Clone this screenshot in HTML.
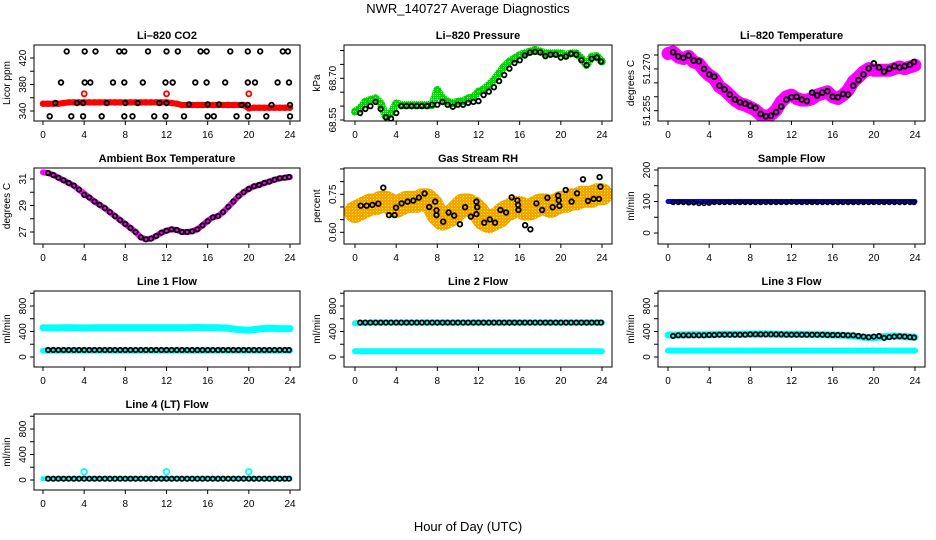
<!DOCTYPE html>
<html><head><meta charset="utf-8"><style>
html,body{margin:0;padding:0;background:#fff;}
svg{display:block;font-family:"Liberation Sans",Arial,sans-serif;}
</style></head><body>
<svg id="chart" width="936" height="540" viewBox="0 0 936 540" xmlns="http://www.w3.org/2000/svg">
<defs>
<pattern id="orangeDots" width="3" height="3" patternUnits="userSpaceOnUse">
<rect width="3" height="3" fill="#f5a300"/><rect x="1" y="1" width="1" height="1" fill="#ffff00"/>
</pattern>
<pattern id="greenDots" width="2" height="2" patternUnits="userSpaceOnUse">
<rect width="2" height="2" fill="#00dd00"/><rect x="1" y="1" width="1" height="1" fill="#88ff88"/>
</pattern>
</defs>
<text x="468" y="13" font-size="13" text-anchor="middle">NWR_140727  Average Diagnostics</text>
<text x="468" y="531" font-size="13" text-anchor="middle">Hour of Day (UTC)</text>
<g id="panels"></g>
</svg>
<script>
// ---------- data ----------
const hours49 = [0,0.5,1,1.5,2,2.5,3,3.5,4,4.5,5,5.5,6,6.5,7,7.5,8,8.5,9,9.5,10,10.5,11,11.5,12,12.5,13,13.5,14,14.5,15,15.5,16,16.5,17,17.5,18,18.5,19,19.5,20,20.5,21,21.5,22,22.5,23,23.5,24];
const hours48 = [0.5,1,1.5,2,2.5,3,3.5,4,4.5,5,5.5,6,6.5,7,7.5,8,8.5,9,9.5,10,10.5,11,11.5,12,12.5,13,13.5,14,14.5,15,15.5,16,16.5,17,17.5,18,18.5,19,19.5,20,20.5,21,21.5,22,22.5,23,23.5,23.9];
const hours25 = [0,1,2,3,4,5,6,7,8,9,10,11,12,13,14,15,16,17,18,19,20,21,22,23,24];
const xTicks = [0,4,8,12,16,20,24];

// CO2
const co2Red = [351,351,351,351,352,353,353,353,353,353,353,353,353,353,353,353,353,353,353,353,353,353,353,353,353,352,351,349,349,349,349,349,349,349,349,349,349,349,349,349,344,345,345,345,345,345,345,345,345];
const co2RedOutT = [4,12,20];
const co2RedOutV = [366,366,366];
const co2BlackT = [2.3,4.05,5.1,7.4,7.9,10.2,12,13.1,15.3,15.9,18.2,19.9,21.1,23.3,23.8, 1.75,4.05,4.6,6.8,7.9,9.7,11.9,12.6,14.8,15.9,17.7,19.9,20.6,22.8,23.9, 1.2,3.3,3.9,6.2,8,9.2,11.3,12,14.2,16,17.1,19.3,19.9,22.2,24, 0.65,2.75,3.9,5.7,7.9,8.7,10.8,11.9,13.7,16,16.6,18.8,19.9,21.7,24];
const co2BlackV = [430,430,430,430,430,430,430,430,430,430,430,430,430,430,430, 383,383,383,383,383,383,383,383,383,383,383,383,383,383,383, 352,352,352,352,352,352,352,352,350,350,350,349,349,349,349, 332,332,332,332,332,332,332,332,332,332,332,332,332,332,332];

// Pressure
const presGreen = [68.580,68.592,68.616,68.622,68.628,68.610,68.562,68.574,68.610,68.604,68.604,68.604,68.604,68.604,68.604,68.604,68.658,68.628,68.616,68.610,68.616,68.618,68.628,68.632,68.652,68.660,68.676,68.694,68.718,68.742,68.760,68.772,68.784,68.790,68.796,68.802,68.796,68.790,68.790,68.790,68.790,68.784,68.790,68.790,68.772,68.748,68.778,68.780,68.760];
const presBlack = [68.575,68.590,68.600,68.615,68.590,68.560,68.555,68.575,68.600,68.600,68.600,68.600,68.600,68.600,68.605,68.605,68.615,68.605,68.598,68.605,68.605,68.612,68.615,68.618,68.640,68.652,68.668,68.690,68.712,68.735,68.755,68.765,68.782,68.792,68.795,68.793,68.780,68.785,68.785,68.775,68.778,68.788,68.785,68.765,68.748,68.770,68.775,68.760];

// Li-820 temperature
const tempMag = [51.2755,51.2761,51.2743,51.2737,51.2745,51.2725,51.2719,51.2695,51.2677,51.2665,51.2636,51.2624,51.2606,51.2588,51.2576,51.2570,51.2562,51.2552,51.2535,51.2529,51.2535,51.2552,51.2582,51.2600,51.2606,51.2594,51.2588,51.2588,51.2594,51.2606,51.2612,51.2618,51.2600,51.2594,51.2606,51.2624,51.2654,51.2671,51.2689,51.2701,51.2695,51.2695,51.2695,51.2695,51.2701,51.2707,51.2701,51.2707,51.2713];
const tempBlack = [51.2760,51.2745,51.2740,51.2748,51.2730,51.2727,51.2700,51.2680,51.2672,51.2640,51.2626,51.2608,51.2590,51.2580,51.2575,51.2568,51.2560,51.2538,51.2530,51.2532,51.2545,51.2565,51.2590,51.2598,51.2600,51.2590,51.2585,51.2615,51.2605,51.2615,51.2620,51.2600,51.2598,51.2610,51.2608,51.2640,51.2660,51.2680,51.2702,51.2720,51.2705,51.2690,51.2700,51.2710,51.2705,51.2710,51.2715,51.2725];

// Ambient box temperature
const ambient = [31.5,31.45,31.3,31.1,30.9,30.7,30.5,30.2,29.9,29.6,29.3,29.05,28.8,28.5,28.2,27.9,27.6,27.3,27.0,26.6,26.45,26.5,26.7,26.95,27.1,27.2,27.15,27.0,27.0,27.05,27.2,27.5,27.85,28.1,28.2,28.5,28.9,29.3,29.7,30.0,30.25,30.45,30.55,30.7,30.8,30.95,31.05,31.1,31.15];
const ambientBlack = [31.45,31.3,31.1,30.9,30.7,30.5,30.2,29.8,29.6,29.3,29.05,28.8,28.5,28.2,27.9,27.6,27.3,27.0,26.6,26.45,26.5,26.7,26.95,27.1,27.2,27.15,27.0,27.0,27.05,27.2,27.5,27.8,28.1,28.2,28.5,28.9,29.3,29.7,30.0,30.25,30.45,30.55,30.7,30.8,30.95,31.05,31.1,31.15];

// Gas stream RH
const rhBand = [0.68,0.69,0.70,0.71,0.71,0.72,0.72,0.71,0.70,0.71,0.72,0.72,0.72,0.73,0.73,0.71,0.67,0.65,0.66,0.67,0.69,0.71,0.71,0.70,0.68,0.65,0.64,0.65,0.66,0.68,0.69,0.70,0.70,0.69,0.69,0.70,0.71,0.71,0.70,0.71,0.72,0.72,0.73,0.73,0.74,0.74,0.74,0.75,0.75];
const rhBlackT = [0.55,1.13,1.68,2.26,2.75,3.3,3.85,3.98,4.53,5.11,5.66,6.21,6.76,7.21,7.79,7.92,7.92,8.57,9.09,9.64,10.19,10.7,11.25,11.8,11.87,11.8,12.55,13.1,13.6,14.13,14.68,15.23,15.78,15.85,15.88,16.53,17.04,17.63,18.18,18.69,19.21,19.73,19.79,19.86,20.47,21.05,21.57,22.15,22.64,23.19,23.71,23.77,23.84];
const rhBlackV = [0.705,0.705,0.708,0.713,0.776,0.668,0.668,0.697,0.714,0.721,0.725,0.737,0.753,0.70,0.721,0.687,0.668,0.642,0.678,0.666,0.632,0.699,0.662,0.721,0.699,0.672,0.638,0.651,0.638,0.688,0.678,0.738,0.726,0.708,0.688,0.628,0.612,0.714,0.688,0.736,0.699,0.745,0.726,0.704,0.767,0.721,0.754,0.809,0.724,0.732,0.732,0.818,0.78];

// Sample flow
const sampleBlue = [100,100,100,100,100,100,100,100,100,100,100,100,100,100,100,100,100,100,100,100,100,100,100,100,100];
const sampleBlack = [97,97,97,96,96,94,94,95,97,97,97,97,97,97,97,97,97,97,97,97,97,97,97,98,97,97,97,97,97,97,97,97,97,97,97,97,97,97,97,97,97,97,97,97,97,97,97,97];

// Line flows
const line1Upper = [460,455,460,460,455,460,460,460,460,458,460,460,458,460,460,462,460,458,450,430,420,440,450,445,445];
const line1Lower = [100,100,100,100,100,100,100,100,100,100,100,100,100,100,100,100,100,100,100,100,100,100,100,100,100];
const line1Black = [110,110,110,110,110,110,110,110,110,110,110,110,110,110,110,110,110,110,110,110,110,110,110,110,110,110,110,110,110,110,110,110,110,110,110,110,110,110,110,110,110,110,110,110,110,110,110,110];
const line2Upper = [530,535,540,540,540,540,540,540,540,540,540,540,540,540,540,540,540,540,540,540,540,540,540,540,540];
const line2Lower = [90,90,90,90,90,90,90,90,90,90,90,90,90,90,90,90,90,90,90,90,90,90,90,90,90];
const line2Black = [540,540,540,540,540,540,540,540,540,540,540,540,540,540,540,540,540,540,540,540,540,540,540,540,540,540,540,540,540,540,540,540,540,540,540,540,540,540,540,540,540,540,540,540,540,540,540,540];
const line3Upper = [345,345,350,350,350,355,355,355,360,360,360,355,355,355,350,350,345,340,330,310,300,320,330,320,310];
const line3Lower = [100,100,100,100,100,100,100,100,100,100,100,100,100,100,100,100,100,100,100,100,100,100,100,100,100];
const line3Black = [330,340,340,340,340,340,340,345,345,350,350,350,350,350,350,355,355,355,355,355,355,355,350,350,350,350,350,350,350,350,345,345,345,345,340,340,330,320,310,320,330,300,310,320,325,320,310,305];
const line4Cyan = [20,20,20,20,20,20,20,20,20,20,20,20,20,20,20,20,20,20,20,20,20,20,20,20,20];
const line4Black = [20,20,20,20,20,20,20,20,20,20,20,20,20,20,20,20,20,20,20,20,20,20,20,20,20,20,20,20,20,20,20,20,20,20,20,20,20,20,20,20,20,20,20,20,20,20,20,20];
const line4OutT = [4,12,20];
const line4OutV = [130,130,130];

// ---------- layout ----------
const NS = "http://www.w3.org/2000/svg";
const cols = [{l:34,r:300,x0:43,x24:290},{l:344,r:612,x0:355,x24:602},{l:658,r:925,x0:668,x24:915}];
const rowsTop = [45,168,291,414];
const boxH = 76;
const root = document.getElementById('panels');

function mk(tag, attrs, parent){
  const e = document.createElementNS(NS, tag);
  for (const k in attrs) e.setAttribute(k, attrs[k]);
  parent.appendChild(e);
  return e;
}

function panel(cfg){
  const c = cols[cfg.col], top = rowsTop[cfg.row], bot = top + boxH;
  const g = mk('g', {}, root);
  
  
  const sx = t => c.x0 + (t/24)*(c.x24 - c.x0);
  const sy = v => bot - (v - cfg.vmin)/(cfg.vmax - cfg.vmin)*(bot - top);
  const clip = 'clip' + cfg.name;
  const cp = mk('clipPath', {id: clip}, g);
  mk('rect', {x:c.l, y:top, width:c.r-c.l, height:bot-top}, cp);
  const plot = mk('g', {'clip-path':'url(#'+clip+')'}, g);
  
  
  cfg.draw({
    band(times, vals, color, w, nm){
      const d = times.map((t,i)=>(i?'L':'M')+sx(t).toFixed(1)+','+sy(vals[i]).toFixed(1)).join('');
      const p = mk('path', {d:d, fill:'none', stroke:color, 'stroke-width':w, 'stroke-linejoin':'round', 'stroke-linecap':'round'}, plot);
      
      
    },
    pts(times, vals, color, r, sw, nm){
      times.forEach((t,i)=>{
        const ci = mk('circle', {cx:sx(t).toFixed(1), cy:sy(vals[i]).toFixed(1), r:r, fill:'none', stroke:color, 'stroke-width':sw}, plot);
        
        
      });
    }
  });
  const box = mk('rect', {x:c.l, y:top, width:c.r-c.l, height:bot-top, fill:'none', stroke:'#000', 'stroke-width':1}, g);
  
  
  const tt = mk('text', {x:(c.l+c.r)/2, y:top-6, 'font-size':11, 'font-weight':'bold', 'text-anchor':'middle'}, g);
  tt.textContent = cfg.title;
  
  
  xTicks.forEach(v=>{
    const x = sx(v);
    const tk = mk('line', {x1:x, x2:x, y1:bot, y2:bot+4, stroke:'#000'}, g);
    
    
    const lb = mk('text', {x:x, y:bot+17, 'font-size':10, 'text-anchor':'middle'}, g);
    lb.textContent = v;
    
    
  });
  cfg.ticks.forEach(v=>{
    const y = sy(v);
    const tk = mk('line', {x1:c.l-4, x2:c.l, y1:y, y2:y, stroke:'#000'}, g);
    
    
  });
  cfg.labels.forEach(v=>{
    const y = sy(v);
    const x = c.l - 8;
    const lb = mk('text', {x:x, y:y, 'font-size':10, 'text-anchor':'middle', transform:'rotate(-90 '+x+' '+y+')'}, g);
    lb.textContent = cfg.fmt ? cfg.fmt(v) : v;
    
    
  });
  const yl = c.l - 24, ym = (top+bot)/2;
  const ylab = mk('text', {x:yl, y:ym, 'font-size':10, 'text-anchor':'middle', transform:'rotate(-90 '+yl+' '+ym+')'}, g);
  ylab.textContent = cfg.ylab;
  
  
}

const flowTicks = [0,200,400,600,800,1000];
const flowLabels = [0,400,800];

panel({name:'co2-panel', col:0, row:0, title:'Li\u2013820 CO2', ylab:'Licor ppm', vmin:324.9, vmax:439.6,
  ticks:[340,360,380,400,420], labels:[340,380,420], draw(d){
    d.band(hours49, co2Red, '#ff0000', 6, 'co2-red-series');
    d.pts(hours49, co2Red, '#ff0000', 2.5, 1.5, 'co2-red-point');
    d.pts(co2RedOutT, co2RedOutV, '#ff0000', 2.5, 1.8, 'co2-red-outlier');
    d.pts(co2BlackT, co2BlackV, '#000', 2.3, 1.8, 'co2-black-point');
  }});
panel({name:'pressure-panel', col:1, row:0, title:'Li\u2013820 Pressure', ylab:'kPa', vmin:68.5464, vmax:68.8198,
  ticks:[68.55,68.60,68.65,68.70,68.75,68.80], labels:[68.55,68.70], fmt:v=>v.toFixed(2), draw(d){
    d.band(hours49, presGreen, 'url(#greenDots)', 8, 'pressure-green-series');
    d.pts(hours49, presGreen, '#00cc00', 2.5, 1.5, 'pressure-green-point');
    d.pts(hours48, presBlack, '#000', 2.3, 1.8, 'pressure-black-point');
  }});
panel({name:'licor-temp-panel', col:2, row:0, title:'Li\u2013820 Temperature', ylab:'degrees C', vmin:51.2513, vmax:51.2786,
  ticks:[51.255,51.26,51.265,51.27,51.275], labels:[51.255,51.270], fmt:v=>v.toFixed(3), draw(d){
    d.band(hours49, tempMag, '#ff00ff', 13, 'licor-temp-magenta-series');
    d.pts(hours49, tempMag, '#ff00ff', 2.8, 1.5, 'licor-temp-magenta-point');
    d.pts(hours48, tempBlack, '#000', 2.4, 1.9, 'licor-temp-black-point');
  }});
panel({name:'ambient-temp-panel', col:0, row:1, title:'Ambient Box Temperature', ylab:'degrees C', vmin:26.094, vmax:31.83,
  ticks:[27,28,29,30,31], labels:[27,29,31], draw(d){
    d.band(hours49, ambient, '#ff00ff', 6, 'ambient-magenta-series');
    d.pts(hours48, ambientBlack, '#000', 2.2, 1.8, 'ambient-black-point');
  }});
panel({name:'rh-panel', col:1, row:1, title:'Gas Stream RH', ylab:'percent', vmin:0.5538, vmax:0.8538,
  ticks:[0.60,0.65,0.70,0.75,0.80,0.85], labels:[0.60,0.75], fmt:v=>v.toFixed(2), draw(d){
    d.band(hours49, rhBand, 'url(#orangeDots)', 22, 'rh-orange-series');
    d.pts(rhBlackT, rhBlackV, '#000', 2.3, 1.8, 'rh-black-point');
  }});
panel({name:'sample-flow-panel', col:2, row:1, title:'Sample Flow', ylab:'ml/min', vmin:-34.9, vmax:206.3,
  ticks:[0,50,100,150,200], labels:[0,100,200], draw(d){
    d.band(hours25, sampleBlue, '#0000ff', 5, 'sample-blue-series');
    d.pts(hours48, sampleBlack, '#000', 2, 1.6, 'sample-black-point');
  }});
panel({name:'line1-flow-panel', col:0, row:2, title:'Line 1 Flow', ylab:'ml/min', vmin:-156.9, vmax:1035,
  ticks:flowTicks, labels:flowLabels, draw(d){
    d.band(hours25, line1Upper, '#00ffff', 7, 'line1-cyan-upper');
    d.band(hours25, line1Lower, '#00ffff', 6, 'line1-cyan-lower');
    d.pts(hours48, line1Black, '#000', 2.2, 1.8, 'line1-black-point');
  }});
panel({name:'line2-flow-panel', col:1, row:2, title:'Line 2 Flow', ylab:'ml/min', vmin:-156.9, vmax:1035,
  ticks:flowTicks, labels:flowLabels, draw(d){
    d.band(hours25, line2Upper, '#00ffff', 6, 'line2-cyan-upper');
    d.band(hours25, line2Lower, '#00ffff', 6, 'line2-cyan-lower');
    d.pts(hours48, line2Black, '#000', 2.2, 1.8, 'line2-black-point');
  }});
panel({name:'line3-flow-panel', col:2, row:2, title:'Line 3 Flow', ylab:'ml/min', vmin:-156.9, vmax:1035,
  ticks:flowTicks, labels:flowLabels, draw(d){
    d.band(hours25, line3Upper, '#00ffff', 7, 'line3-cyan-upper');
    d.band(hours25, line3Lower, '#00ffff', 6, 'line3-cyan-lower');
    d.pts(hours48, line3Black, '#000', 2.2, 1.8, 'line3-black-point');
  }});
panel({name:'line4-flow-panel', col:0, row:3, title:'Line 4 (LT) Flow', ylab:'ml/min', vmin:-156.9, vmax:1035,
  ticks:flowTicks, labels:flowLabels, draw(d){
    d.band(hours25, line4Cyan, '#00ffff', 5, 'line4-cyan-series');
    d.pts(line4OutT, line4OutV, '#00ffff', 2.8, 1.8, 'line4-cyan-outlier');
    d.pts(hours48, line4Black, '#000', 2.2, 1.8, 'line4-black-point');
  }});
</script>
</body></html>
